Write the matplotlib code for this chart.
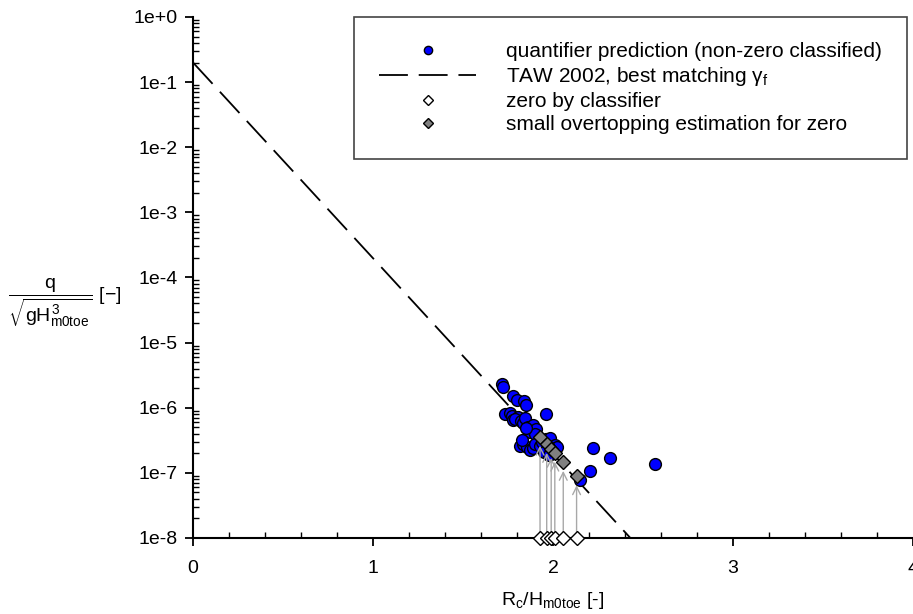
import numpy as np
import matplotlib
matplotlib.use("Agg")
import matplotlib.pyplot as plt
from matplotlib.ticker import FixedLocator, LogLocator, FuncFormatter, NullFormatter, MultipleLocator

plt.rcParams['font.family'] = ['Liberation Sans', 'DejaVu Sans']
plt.rcParams['mathtext.fontset'] = 'custom'
plt.rcParams['mathtext.rm'] = 'Liberation Sans'
plt.rcParams['mathtext.it'] = 'Liberation Sans'
plt.rcParams['mathtext.bf'] = 'Liberation Sans:bold'

# quantifier predictions (non-zero classified)
pred_x = [1.715, 1.722, 1.780, 1.800, 1.838, 1.848, 1.961, 1.735, 1.760, 1.771,
          1.780, 1.808, 1.790, 1.820, 1.832, 1.844, 1.863, 1.872, 1.891, 1.906,
          1.900, 1.850, 1.817, 1.835, 1.854, 1.872, 1.890, 1.900, 1.928, 1.937,
          1.960, 1.985, 2.011, 2.020, 1.985, 1.950, 1.975, 2.224, 2.317, 2.206,
          2.150, 2.567, 1.826]
pred_q = [2.29e-6, 2.09e-6, 1.51e-6, 1.32e-6, 1.26e-6, 1.12e-6, 7.9e-7, 8.1e-7, 8.3e-7, 7.4e-7,
          6.5e-7, 7.2e-7, 6.8e-7, 6.3e-7, 5.8e-7, 6.9e-7, 5.1e-7, 4.3e-7, 5.4e-7, 4.8e-7,
          4.0e-7, 4.9e-7, 2.6e-7, 2.8e-7, 2.5e-7, 2.25e-7, 2.4e-7, 2.75e-7, 2.6e-7, 3.0e-7,
          3.3e-7, 3.4e-7, 2.7e-7, 2.5e-7, 2.35e-7, 2.1e-7, 1.9e-7, 2.45e-7, 1.7e-7, 1.05e-7,
          7.8e-8, 1.38e-7, 3.2e-7]

# TAW 2002 line (straight on log axis)
taw_x = [0.0, 2.43]
taw_q = [0.2, 1e-8]

# zero by classifier, and their small overtopping estimates
zero_x = [1.928, 1.965, 1.990, 2.010, 2.057, 2.131]
zero_q = [1e-8, 1e-8, 1e-8, 1e-8, 1e-8, 1e-8]
est_q = [3.6e-7, 2.79e-7, 2.35e-7, 2.05e-7, 1.48e-7, 8.9e-8]

ytick_vals = [1e0, 1e-1, 1e-2, 1e-3, 1e-4, 1e-5, 1e-6, 1e-7, 1e-8]

fig = plt.figure(figsize=(9.13, 6.14), dpi=100)
ax = fig.add_axes([193/913, 1 - 538/614, 720/913, 521/614])

ax.set_yscale('log')
ax.set_xlim(0, 4)
ax.set_ylim(1e-8, 1e0)

ax.plot(taw_x, taw_q, color='black', lw=1.3, dashes=(16, 6), zorder=2,
        label=r'TAW 2002, best matching $\gamma_f$')
ax.plot(pred_x, pred_q, 'o', color='#0000ff', mec='black', mew=1.0, ms=8.5, zorder=3,
        label='quantifier prediction (non-zero classified)')

for x, q in zip(zero_x, est_q):
    ax.annotate('', xy=(x, q * 10**-0.14), xytext=(x, 1.15e-8),
                arrowprops=dict(arrowstyle='->', color='#a8a8a8', lw=1.0,
                                mutation_scale=14, shrinkA=0, shrinkB=0),
                zorder=4)

ax.plot(zero_x, zero_q, 'D', color='white', mec='black', mew=1.0, ms=7.5, zorder=5,
        clip_on=False, label='zero by classifier')
ax.plot(zero_x, est_q, 'D', color='#808080', mec='black', mew=1.0, ms=7.5, zorder=5,
        label='small overtopping estimation for zero')

for s in ['top', 'right']:
    ax.spines[s].set_visible(False)
for s in ['left', 'bottom']:
    ax.spines[s].set_linewidth(1.5)

ax.xaxis.set_major_locator(MultipleLocator(1))
ax.xaxis.set_minor_locator(MultipleLocator(0.2))
ax.yaxis.set_major_locator(FixedLocator(ytick_vals))
ax.yaxis.set_minor_locator(LogLocator(base=10, subs=np.arange(2, 10), numticks=20))
ax.yaxis.set_minor_formatter(NullFormatter())
ax.yaxis.set_major_formatter(FuncFormatter(lambda v, p: f"1e{int(round(np.log10(v))):+d}"))

ax.tick_params(which='major', direction='out', length=6, width=1.3, labelsize=14, pad=5)
ax.tick_params(axis='x', which='major', pad=10)
ax.tick_params(which='minor', direction='in', length=4, width=1.0)

ax.set_xlabel(r'R$_c$/H$_{m0toe}$ [-]', fontsize=14, labelpad=9)
fig.text(8/913, 0.5 + 4/614, r'$\dfrac{q}{\sqrt{gH^3_{m0toe}}}$ [$-$]',
         fontsize=14, ha='left', va='center', transform=fig.transFigure)

handles, labels = ax.get_legend_handles_labels()
order = [1, 0, 2, 3]
leg = ax.legend([handles[i] for i in order], [labels[i] for i in order],
                loc='upper right', bbox_to_anchor=(0.992, 1.0), fontsize=15,
                frameon=True, fancybox=False, framealpha=1, edgecolor='#444444',
                handlelength=4.65, handletextpad=1.44, borderpad=1.2, labelspacing=0.2,
                markerscale=0.7, borderaxespad=0)
leg.get_frame().set_linewidth(1.2)

fig.savefig('out.png', dpi=100)
